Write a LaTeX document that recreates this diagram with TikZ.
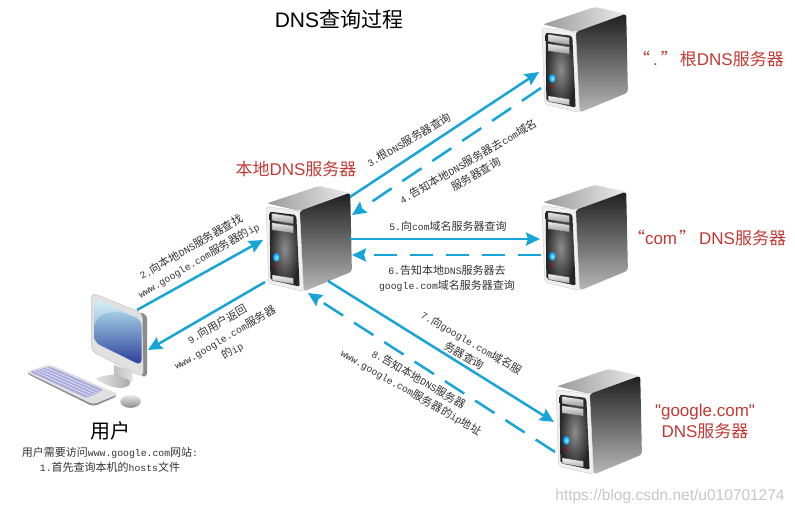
\documentclass[tikz,border=0pt]{standalone}
\usepackage{fontspec}
\usetikzlibrary{arrows.meta,calc}
\setmainfont{Liberation Sans}
\newfontfamily\cjk{Noto Sans CJK SC}
\newfontfamily\mon{Liberation Mono}
\newfontfamily\plainsans{Liberation Sans}
\newcommand\ck[1]{{\cjk #1}}
\newcommand\cj[1]{{\cjk\fontsize{11}{15}\selectfont #1}}
\definecolor{arrowblue}{HTML}{17A5D8}
\definecolor{redlabel}{HTML}{C23A33}
\definecolor{inktext}{HTML}{333333}
\definecolor{screentop}{HTML}{BDEFF4}
\definecolor{screenmid}{HTML}{3F9CC8}
\definecolor{screenlow}{HTML}{2A3A9A}
\definecolor{keycap}{HTML}{ABABE0}
\tikzset{
  flow/.style={draw=arrowblue,line width=2.5pt,-{Stealth[length=14pt,width=13pt,inset=2pt]}},
  flowdash/.style={flow,dash pattern=on 23pt off 13pt},
  steplabel/.style={text=inktext,align=center,inner sep=0pt,font=\mon\fontsize{9.8}{15}\selectfont},
  serverlabel/.style={text=redlabel,align=center,inner sep=0pt,font=\fontsize{17}{21}\selectfont},
  server/.pic={
    \begin{scope}[x=0.333pt,y=-0.333pt]
      \shade[left color=gray!80,right color=gray!15,rounded corners=2pt] (3,52)--(158,0)--(253,20)--(101,75)--cycle;
      \shade[top color=black!88,bottom color=black!28,rounded corners=3pt] (101,75)--(253,20)--(258,257)--(113,317)--cycle;
      \fill[black!6,draw=black!20,line width=.4pt,rounded corners=3pt] (0,62)--(101,75)--(113,317)--(8,292)--cycle;
      \shade[inner color=black!45,outer color=black!85,rounded corners=2pt] (11,77)--(91,87)--(101,302)--(13,282)--cycle;
      \foreach \dy in {0,28}{
        \shade[top color=black!8,bottom color=black!40,draw=black!70,line width=.3pt] (18,82+\dy)--(83,92+\dy)--(83,114+\dy)--(18,104+\dy)--cycle;
      }
      \shade[top color=black!5,bottom color=black!30,draw=black!70,line width=.3pt] (20,267)--(83,277)--(83,295)--(20,284)--cycle;
      \shade[inner color=cyan!50,outer color=blue!45!cyan] (31,214) ellipse (10 and 13);
      \fill[red!75!black] (29,241) circle (4);
    \end{scope}
  }
}
\begin{document}
\begin{tikzpicture}[x=1pt,y=-1pt]
\useasboundingbox[fill=white] (0,0) rectangle (795,514);

% servers
\pic (srvroot) at (542,7) {server};
\pic (srvlocal) at (266,186) {server};
\pic (srvcom) at (542,185) {server};
\pic (srvgoogle) at (556,369) {server};

% computer
\begin{scope}[shift={(0,270)},x=0.333pt,y=-0.333pt]
  \shade[left color=black!25,right color=black!12] (342,285)--(398,305)--(398,335)--(342,320)--cycle;
  \shade[left color=black!8,right color=black!35,rounded corners=6pt] (280,325)--(342,312)--(400,335)--(375,357)--(330,350)--cycle;
  \fill[black!45,rounded corners=3pt] (420,125)--(442,138)--(442,318)--(425,322)--cycle;
  \fill[black!12,draw=black!25,line width=.4pt,rounded corners=5pt] (275,68)--(428,130)--(430,322)--(275,245)--cycle;
  \shade[top color=screentop,middle color=screenmid,bottom color=screenlow,rounded corners=6pt] (283,86)--(425,150)--(425,287)--(283,217)--cycle;
  \fill[white,opacity=.3,rounded corners=5pt] (283,86)--(425,150)--(420,148) .. controls (350,115) and (300,125) .. (283,170)--cycle;
  % keyboard
  \fill[black!45,rounded corners=4pt] (78,310)--(150,287)--(355,378)--(280,410)--cycle;
  \fill[black!12,rounded corners=4pt] (78,306)--(150,283)--(355,373)--(280,404)--cycle;
  \fill[keycap,rounded corners=2pt] (90,306)--(150,290)--(310,360)--(262,385)--cycle;
  \foreach \t in {0.2,0.4,0.6,0.8}{
    \draw[white,line width=.4pt] ($(90,306)!\t!(150,290)$)--($(262,385)!\t!(310,360)$);
  }
  \shade[top color=black!10,bottom color=black!45] (392,395) ellipse (31 and 19);
\end{scope}

% connector end points
\coordinate (twoS) at (137,310);  \coordinate (twoE) at (263,240);
\coordinate (nineS) at (265,282); \coordinate (nineE) at (148,350);
\coordinate (threeS) at (350,197);\coordinate (threeE) at (539,72);
\coordinate (fourS) at (541,88);  \coordinate (fourE) at (352,215);
\coordinate (fiveS) at (350,239); \coordinate (fiveE) at (540,239);
\coordinate (sixS) at (541,255);  \coordinate (sixE) at (352,255);
\coordinate (sevenS) at (328,281);\coordinate (sevenE) at (554,422);
\coordinate (eightS) at (555,452);\coordinate (eightE) at (308,293);

\draw[flow] (twoS)--(twoE);
\draw[flow] (nineS)--(nineE);
\draw[flow] (threeS)--(threeE);
\draw[flowdash] (fourS)--(fourE);
\draw[flow] (fiveS)--(fiveE);
\draw[flowdash] (sixS)--(sixE);
\draw[flow] (sevenS)--(sevenE);
\draw[flowdash] (eightS)--(eightE);

% headings
\node (title) at (339,19) {\fontsize{21}{25}\selectfont DNS\ck{查询过程}};
\node[serverlabel] (lbllocal) at (296,169) {\ck{本地}DNS\ck{服务器}};
\node[serverlabel] (lblroot) at (708.5,59) {\ck{“}\hspace{3pt}.\hspace{3pt}\ck{”}\hspace{2pt}\ck{根}DNS\ck{服务器}};
\node[serverlabel] (lblcom) at (707,238) {\ck{“}com\hspace{2pt}\ck{”}\hspace{3pt}DNS\ck{服务器}};
\node[serverlabel] (lblgoogle) at (705,422) {{\plainsans"google.com"}\\DNS\ck{服务器}};
\node (lbluser) at (110,431) {\fontsize{20}{24}\selectfont\ck{用户}};

% step labels
\node[steplabel,rotate=30] (s2) at (195,254) {2.\cj{向本地}DNS\cj{服务器查找}\\www.google.com\cj{服务器的}ip};
\node[steplabel,rotate=30] (s9) at (225,338) {9.\cj{向用户返回}\\www.google.com\cj{服务器}\\\cj{的}ip};
\node[steplabel,rotate=30] (s3) at (409,140) {3.\cj{根}DNS\cj{服务器查询}};
\node[steplabel,rotate=30] (s4) at (472,168) {4.\cj{告知本地}DNS\cj{服务器去}com\cj{域名}\\\cj{服务器查询}};
\node[steplabel] (s5) at (448,226) {5.\cj{向}com\cj{域名服务器查询}};
\node[steplabel] (s6) at (447,278) {6.\cj{告知本地}DNS\cj{服务器去}\\google.com\cj{域名服务器查询}};
\node[steplabel,rotate=-30] (s7) at (468,349) {7.\cj{向}google.com\cj{域名服}\\\cj{务器查询}};
\node[steplabel,rotate=-30] (s8) at (415,386) {8.\cj{告知本地}DNS\cj{服务器}\\www.google.com\cj{服务器的}ip\cj{地址}};
\node[steplabel] (s1) at (110,460) {\cj{用户需要访问}www.google.com\cj{网站}:\\1.\cj{首先查询本机的}hosts\cj{文件}};

% watermark
\node[text=black!22,inner sep=0pt,font=\fontsize{15.5}{18}\selectfont] (mark) at (670,496) {https://blog.csdn.net/u010701274};
\end{tikzpicture}
\end{document}
